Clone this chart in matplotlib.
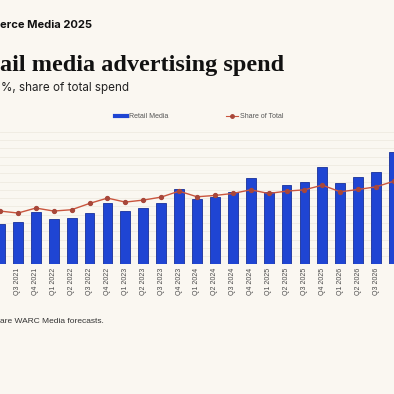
import matplotlib.pyplot as plt
from matplotlib.lines import Line2D
import numpy as np

BG = '#FAF7F1'
BAR_BLUE = '#1F45D3'
LINE_RED = '#C9553E'

# quarters shown (first and last are cut by the frame)
quarters = ['Q2 2021', 'Q3 2021', 'Q4 2021', 'Q1 2022', 'Q2 2022', 'Q3 2022',
            'Q4 2022', 'Q1 2023', 'Q2 2023', 'Q3 2023', 'Q4 2023', 'Q1 2024',
            'Q2 2024', 'Q3 2024', 'Q4 2024', 'Q1 2025', 'Q2 2025', 'Q3 2025',
            'Q4 2025', 'Q1 2026', 'Q2 2026', 'Q3 2026', 'Q4 2026']

# retail media spend (US$ bn)
retail_media = [24.2, 25.6, 31.8, 27.2, 28.2, 30.8, 37.2, 32.4, 34.2, 37.2,
                45.5, 39.5, 40.8, 43.7, 51.9, 43.7, 47.7, 49.7, 58.9, 48.9,
                52.5, 55.9, 67.8]

# share of total ad spend (%)
share_total = [16.1, 15.5, 17.0, 16.1, 16.5, 18.4, 20.0, 18.8, 19.4, 20.3,
               22.1, 20.4, 20.8, 21.4, 22.5, 21.4, 22.1, 22.5, 23.9, 21.9,
               22.6, 23.4, 25.1]

fig = plt.figure(figsize=(3.94, 3.94), dpi=100, facecolor=BG)

# header texts (the picture is a crop, so they start at the left edge)
fig.text(0.0, 0.929, 'erce Media 2025', family=['Inter', 'DejaVu Sans'],
         fontsize=8, fontweight='bold', color='#111111', va='baseline')
fig.text(0.0, 0.8206, 'ail media advertising spend',
         family=['Liberation Serif', 'DejaVu Serif'], fontsize=17.5,
         fontweight='bold', color='#111111', va='baseline')
fig.text(0.003, 0.769, '%, share of total spend', family=['Inter', 'DejaVu Sans'],
         fontsize=8.4, color='#222222', va='baseline')

ax = fig.add_axes([0, 0.3287, 1, 0.3370])
ax.set_facecolor(BG)
x = np.arange(len(quarters))
ax.bar(x, retail_media, width=0.55, color=BAR_BLUE, edgecolor='#17309A',
       linewidth=0.6, zorder=3)
ax.set_xlim(0.1736, 21.88)
ax.set_ylim(0, 80)
ax.set_yticks(np.arange(0, 81, 5))
ax.yaxis.grid(True, color='#EFEAE1', linewidth=0.6, zorder=0)
ax.set_yticklabels([])
ax.tick_params(axis='y', length=0)
# labels of the two cut-off bars fall outside the frame
tick_labels = [''] + quarters[1:-1] + ['']
ax.set_xticks(x)
ax.set_xticklabels(tick_labels, rotation=90, fontsize=5,
                   family=['Liberation Sans', 'DejaVu Sans'], color='#4A4A4A')
ax.tick_params(axis='x', length=0, pad=2.5)
for s in ax.spines.values():
    s.set_visible(False)

ax2 = ax.twinx()
ax2.plot(x, share_total, color=LINE_RED, linewidth=1.0, marker='o',
         markersize=2.8, markerfacecolor='#A8473A', markeredgecolor='#A8473A',
         zorder=4)
ax2.set_ylim(0, 40)
ax2.set_yticks([])
for s in ax2.spines.values():
    s.set_visible(False)

handles = [Line2D([], [], color=BAR_BLUE, linewidth=3),
           Line2D([], [], color=LINE_RED, linewidth=0.8, marker='o',
                  markersize=2.5, markerfacecolor='#A8473A',
                  markeredgecolor='#A8473A')]
fig.legend(handles, ['Retail Media', 'Share of Total'], loc='center',
           bbox_to_anchor=(0.506, 0.704), ncol=2, frameon=False,
           prop={'family': ['Liberation Sans', 'DejaVu Sans'], 'size': 5},
           labelcolor='#555555', handlelength=1.7, handletextpad=0.3,
           columnspacing=8.3)

fig.text(0.0, 0.1835, 'are WARC Media forecasts.',
         family=['Liberation Sans', 'DejaVu Sans'], fontsize=6,
         color='#333333', va='center')

fig.savefig('out.png', dpi=100, facecolor=BG)
